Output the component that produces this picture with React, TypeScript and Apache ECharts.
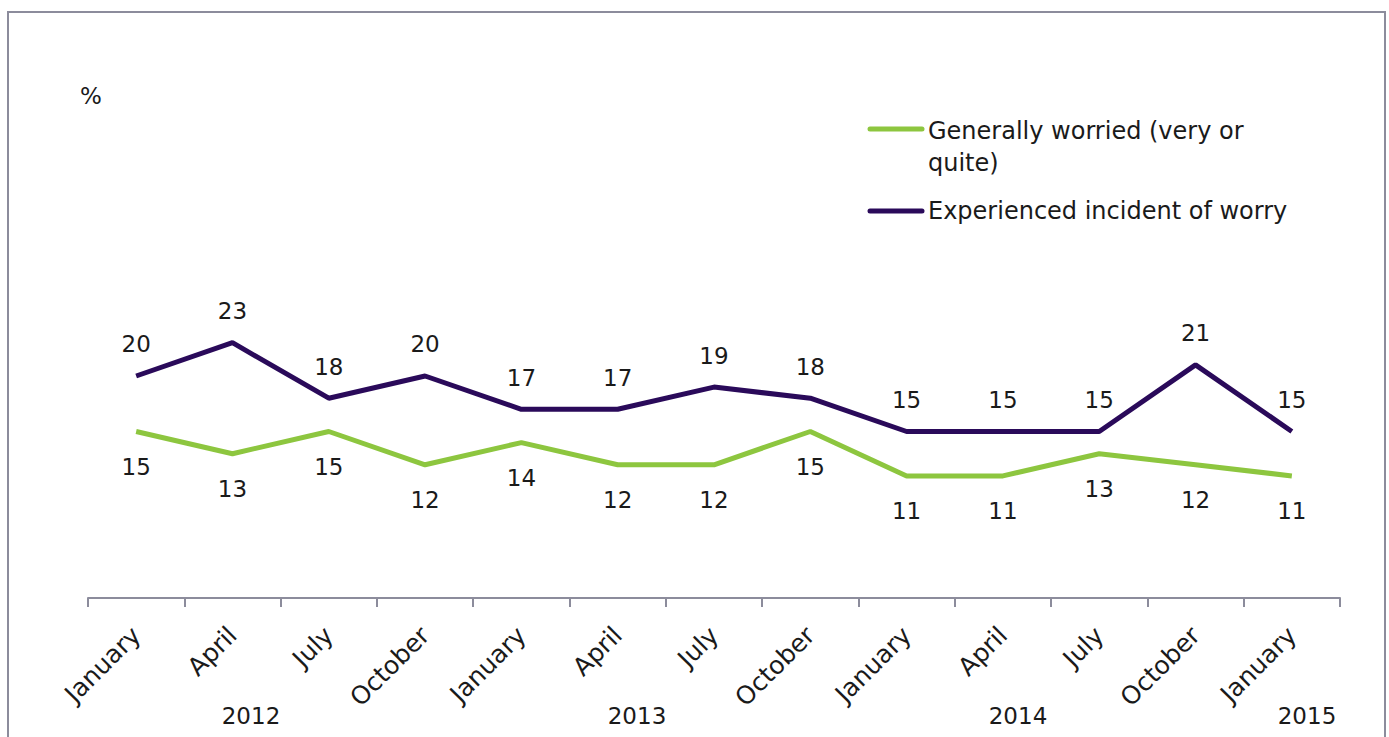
import React, { useEffect, useRef } from "react";
import * as echarts from "echarts";

const months = ["January", "April", "July", "October", "January", "April", "July", "October", "January", "April", "July", "October", "January"];
const years = ["2012", "2013", "2014", "2015"];
const yearX = [251, 637, 1018, 1307];
const worried = [15, 13, 15, 12, 14, 12, 12, 15, 11, 11, 13, 12, 11];
const incident = [20, 23, 18, 20, 17, 17, 19, 18, 15, 15, 15, 21, 15];
const seriesNames = ["Generally worried (very or\nquite)", "Experienced incident of worry"];
const colors = ["#8DC63F", "#2A0A5A"];

const FONT = "DejaVu Sans";

export default function App() {
  const ref = useRef<HTMLDivElement>(null);
  useEffect(() => {
    if (!ref.current) return;
    const chart = echarts.init(ref.current, undefined, { renderer: "svg" });
    const textColor = "#1a1a1a";
    chart.setOption({
      animation: false,
      backgroundColor: "#ffffff",
      textStyle: { fontFamily: FONT },
      grid: { left: 88, right: 49, top: 154, bottom: 139 },
      xAxis: {
        type: "category",
        data: months,
        boundaryGap: true,
        axisLine: { lineStyle: { color: "#8C8C9C", width: 2 } },
        axisTick: { show: true, length: 9, lineStyle: { color: "#8C8C9C", width: 2 } },
        axisLabel: { rotate: 45, color: textColor, fontSize: 25, fontFamily: FONT, margin: 33, interval: 0 },
      },
      yAxis: {
        type: "value",
        min: 0,
        max: 40,
        show: false,
        splitLine: { show: false },
      },
      series: [
        {
          name: seriesNames[0],
          type: "line",
          data: worried,
          symbol: "circle",
          symbolSize: 0.1,
          showSymbol: true,
          lineStyle: { color: colors[0], width: 5 },
          itemStyle: { color: colors[0] },
          label: { show: true, position: "bottom", distance: 24, color: textColor, fontSize: 23, fontFamily: FONT },
        },
        {
          name: seriesNames[1],
          type: "line",
          data: incident,
          symbol: "circle",
          symbolSize: 0.1,
          showSymbol: true,
          lineStyle: { color: colors[1], width: 5 },
          itemStyle: { color: colors[1] },
          label: { show: true, position: "top", distance: 20, color: textColor, fontSize: 23, fontFamily: FONT },
        },
      ],
      graphic: [
        {
          type: "rect",
          shape: { x: 8, y: 12, width: 1377, height: 740 },
          style: { fill: "none", stroke: "#8C8C9C", lineWidth: 2 },
          silent: true,
        },
        {
          type: "text",
          x: 80,
          y: 84,
          style: { text: "%", fontSize: 23, fontFamily: FONT, fill: textColor },
        },
        {
          type: "line",
          shape: { x1: 870, y1: 129, x2: 922, y2: 129 },
          style: { stroke: colors[0], lineWidth: 5, lineCap: "round" },
        },
        {
          type: "text",
          x: 928,
          y: 131,
          style: { text: seriesNames[0], fontSize: 24, fontFamily: FONT, fill: textColor, lineHeight: 32, verticalAlign: "top", y: -16 },
        },
        {
          type: "line",
          shape: { x1: 870, y1: 211, x2: 922, y2: 211 },
          style: { stroke: colors[1], lineWidth: 5, lineCap: "round" },
        },
        {
          type: "text",
          x: 928,
          y: 211,
          style: { text: seriesNames[1], fontSize: 24, fontFamily: FONT, fill: textColor, verticalAlign: "middle" },
        },
        ...years.map((y, i) => ({
          type: "text",
          x: yearX[i],
          y: 716,
          style: { text: y, fontSize: 23, fontFamily: FONT, fill: textColor, align: "center", verticalAlign: "middle" },
        })),
      ],
    });
    return () => chart.dispose();
  }, []);
  return (
    <div
      ref={ref}
      style={{ position: "fixed", left: 0, top: 0, width: 1389, height: 737 }}
    />
  );
}
